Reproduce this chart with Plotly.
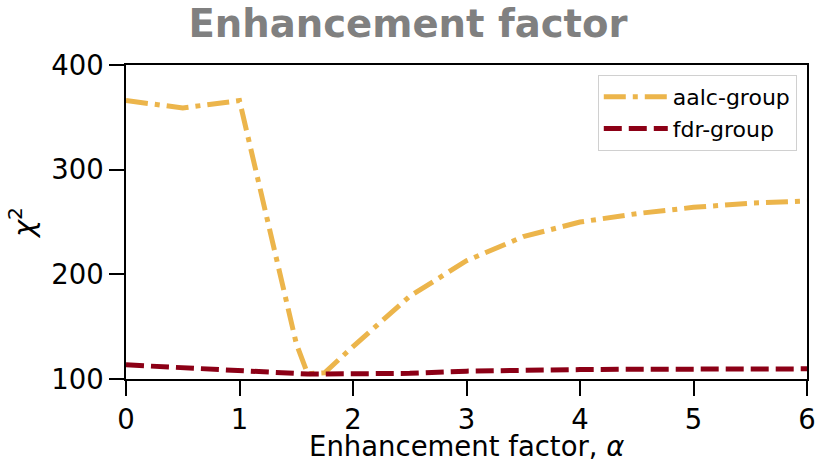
import plotly.graph_objects as go

# Enhancement factor alpha and chi-squared values for both groups
alpha = [0, 0.5, 1, 1.5, 1.6, 1.75, 2, 2.5, 3, 3.5, 4, 4.5, 5, 5.5, 6]
aalc_chi2 = [366, 359, 366, 134, 105, 106, 131, 179, 213, 236, 250, 258, 264, 268, 270]
fdr_chi2 = [113.5, 110.5, 107.5, 105, 104.8, 104.8, 104.8, 105.4, 107.5, 108.5, 109, 109.3, 109.5, 109.6, 109.7]

series_names = ["aalc-group", "fdr-group"]
x_ticks = [0, 1, 2, 3, 4, 5, 6]
y_ticks = [100, 200, 300, 400]

FONT = "DejaVu Sans"

fig = go.Figure()
fig.add_trace(go.Scatter(
    x=alpha, y=aalc_chi2, mode="lines", name=series_names[0],
    line=dict(color="#ecb54b", width=5, dash="22px,7px,5px,7px"),
))
fig.add_trace(go.Scatter(
    x=alpha, y=fdr_chi2, mode="lines", name=series_names[1],
    line=dict(color="#8c0016", width=5, dash="18px,7px"),
))

axis_common = dict(
    showline=True, linecolor="black", linewidth=1.5, mirror=True,
    ticks="outside", ticklen=15, tickwidth=1.5, tickcolor="black",
    showgrid=False, zeroline=False, automargin=False,
    tickfont=dict(family=FONT, size=27.5, color="black"),
)

fig.update_xaxes(range=[0, 6], tickvals=x_ticks, **axis_common)
fig.update_yaxes(
    range=[100, 400], tickvals=y_ticks,
    title=dict(text="<i>χ</i><sup>2</sup>", font=dict(family=FONT, size=29, color="black"), standoff=8),
    **axis_common,
)

# x-axis label placed below the tick labels, outside the bottom margin limit
fig.add_annotation(
    text="Enhancement factor, <i>α</i>", xref="paper", yref="paper",
    x=0.5, y=-0.214, xanchor="center", yanchor="middle", showarrow=False,
    font=dict(family=FONT, size=27.5, color="black"),
)

fig.update_layout(
    width=816, height=461,
    margin=dict(l=126, r=9, t=65, b=82),
    paper_bgcolor="white", plot_bgcolor="white",
    title=dict(text="<b>Enhancement factor</b>", x=0.5, xanchor="center", y=0.95, yanchor="middle",
               font=dict(family=FONT, size=38.6, color="#808080")),
    legend=dict(x=0.985, y=0.968, xanchor="right", yanchor="top",
                bgcolor="rgba(255,255,255,0.8)", bordercolor="#d0d0d0", borderwidth=1,
                font=dict(family=FONT, size=22, color="black"),
                itemwidth=64, tracegroupgap=4),
    showlegend=True,
)

fig.write_html("out.html")
